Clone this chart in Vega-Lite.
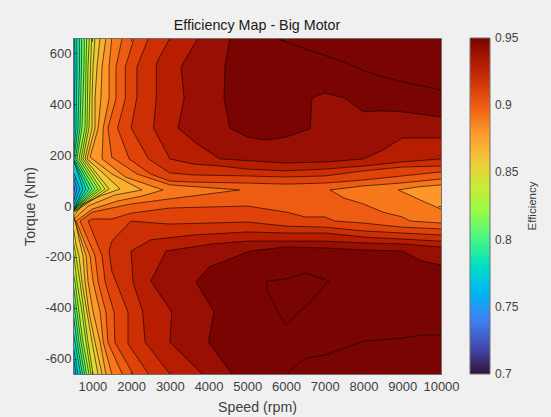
{
"$schema":"https://vega.github.io/schema/vega-lite/v6.json",
"width":368,"height":336,
"autosize":{"type":"none"},
"padding":{"left":73,"top":38,"right":110,"bottom":43},
"background":"#f0f0f0",
"title":{"text":"Efficiency Map - Big Motor","font":"Liberation Sans","fontSize":14.3,"fontWeight":"normal","color":"#1a1a1a","offset":2,"anchor":"middle"},
"data":{"values":[
{"poly":"74","level":0.74,"speed":500,"torque":660},{"poly":"74","level":0.74,"speed":10000,"torque":660},{"poly":"74","level":0.74,"speed":10000,"torque":-660},{"poly":"74","level":0.74,"speed":500,"torque":-660},
{"poly":"75","level":0.75,"speed":500,"torque":660},{"poly":"75","level":0.75,"seg":"75a","speed":500,"torque":106},{"poly":"75","level":0.75,"seg":"75a","speed":540,"torque":67},{"poly":"75","level":0.75,"seg":"75a","speed":500,"torque":28},{"poly":"75","level":0.75,"speed":500,"torque":-660},{"poly":"75","level":0.75,"speed":10000,"torque":-660},{"poly":"75","level":0.75,"speed":10000,"torque":660},
{"poly":"76","level":0.76,"speed":500,"torque":660},{"poly":"76","level":0.76,"seg":"76a","speed":500,"torque":122},{"poly":"76","level":0.76,"seg":"76a","speed":603,"torque":67},{"poly":"76","level":0.76,"seg":"76a","speed":500,"torque":8},{"poly":"76","level":0.76,"seg":"76b","speed":500,"torque":-621},{"poly":"76","level":0.76,"seg":"76b","speed":526,"torque":-660},{"poly":"76","level":0.76,"speed":10000,"torque":-660},{"poly":"76","level":0.76,"speed":10000,"torque":660},
{"poly":"77","level":0.77,"speed":500,"torque":660},{"poly":"77","level":0.77,"seg":"77a","speed":500,"torque":138},{"poly":"77","level":0.77,"seg":"77a","speed":681,"torque":67},{"poly":"77","level":0.77,"seg":"77a","speed":500,"torque":-4},{"poly":"77","level":0.77,"seg":"77b","speed":500,"torque":-582},{"poly":"77","level":0.77,"seg":"77b","speed":577,"torque":-660},{"poly":"77","level":0.77,"speed":10000,"torque":-660},{"poly":"77","level":0.77,"speed":10000,"torque":660},
{"poly":"78","level":0.78,"seg":"78a","speed":539,"torque":660},{"poly":"78","level":0.78,"seg":"78a","speed":552,"torque":547},{"poly":"78","level":0.78,"seg":"78a","speed":526,"torque":307},{"poly":"78","level":0.78,"seg":"78a","speed":505,"torque":185},{"poly":"78","level":0.78,"seg":"78a","speed":758,"torque":67},{"poly":"78","level":0.78,"seg":"78a","speed":505,"torque":-16},{"poly":"78","level":0.78,"speed":500,"torque":-16},{"poly":"78","level":0.78,"seg":"78b","speed":500,"torque":-543},{"poly":"78","level":0.78,"seg":"78b","speed":629,"torque":-660},{"poly":"78","level":0.78,"speed":10000,"torque":-660},{"poly":"78","level":0.78,"speed":10000,"torque":660},
{"poly":"79","level":0.79,"seg":"79a","speed":596,"torque":660},{"poly":"79","level":0.79,"seg":"79a","speed":603,"torque":547},{"poly":"79","level":0.79,"seg":"79a","speed":577,"torque":307},{"poly":"79","level":0.79,"seg":"79a","speed":508,"torque":185},{"poly":"79","level":0.79,"seg":"79a","speed":836,"torque":67},{"poly":"79","level":0.79,"seg":"79a","speed":505,"torque":-16},{"poly":"79","level":0.79,"speed":500,"torque":-16},{"poly":"79","level":0.79,"seg":"79b","speed":500,"torque":-484},{"poly":"79","level":0.79,"seg":"79b","speed":552,"torque":-535},{"poly":"79","level":0.79,"seg":"79b","speed":694,"torque":-660},{"poly":"79","level":0.79,"speed":10000,"torque":-660},{"poly":"79","level":0.79,"speed":10000,"torque":660},
{"poly":"80","level":0.80,"seg":"80a","speed":663,"torque":660},{"poly":"80","level":0.80,"seg":"80a","speed":668,"torque":547},{"poly":"80","level":0.80,"seg":"80a","speed":629,"torque":307},{"poly":"80","level":0.80,"seg":"80a","speed":526,"torque":185},{"poly":"80","level":0.80,"seg":"80a","speed":913,"torque":67},{"poly":"80","level":0.80,"seg":"80a","speed":505,"torque":-16},{"poly":"80","level":0.80,"speed":500,"torque":-16},{"poly":"80","level":0.80,"seg":"80b","speed":500,"torque":-417},{"poly":"80","level":0.80,"seg":"80b","speed":603,"torque":-535},{"poly":"80","level":0.80,"seg":"80b","speed":745,"torque":-660},{"poly":"80","level":0.80,"speed":10000,"torque":-660},{"poly":"80","level":0.80,"speed":10000,"torque":660},
{"poly":"81","level":0.81,"seg":"81a","speed":725,"torque":660},{"poly":"81","level":0.81,"seg":"81a","speed":719,"torque":547},{"poly":"81","level":0.81,"seg":"81a","speed":681,"torque":307},{"poly":"81","level":0.81,"seg":"81a","speed":565,"torque":185},{"poly":"81","level":0.81,"seg":"81a","speed":991,"torque":67},{"poly":"81","level":0.81,"seg":"81a","speed":505,"torque":-18},{"poly":"81","level":0.81,"speed":500,"torque":-18},{"poly":"81","level":0.81,"seg":"81b","speed":500,"torque":-358},{"poly":"81","level":0.81,"seg":"81b","speed":552,"torque":-417},{"poly":"81","level":0.81,"seg":"81b","speed":655,"torque":-535},{"poly":"81","level":0.81,"seg":"81b","speed":797,"torque":-660},{"poly":"81","level":0.81,"speed":10000,"torque":-660},{"poly":"81","level":0.81,"speed":10000,"torque":660},
{"poly":"82","level":0.82,"seg":"82a","speed":792,"torque":660},{"poly":"82","level":0.82,"seg":"82a","speed":784,"torque":547},{"poly":"82","level":0.82,"seg":"82a","speed":732,"torque":307},{"poly":"82","level":0.82,"seg":"82a","speed":603,"torque":185},{"poly":"82","level":0.82,"seg":"82a","speed":1068,"torque":67},{"poly":"82","level":0.82,"seg":"82a","speed":510,"torque":-18},{"poly":"82","level":0.82,"speed":500,"torque":-18},{"poly":"82","level":0.82,"seg":"82b","speed":500,"torque":-299},{"poly":"82","level":0.82,"seg":"82b","speed":603,"torque":-417},{"poly":"82","level":0.82,"seg":"82b","speed":707,"torque":-535},{"poly":"82","level":0.82,"seg":"82b","speed":849,"torque":-660},{"poly":"82","level":0.82,"speed":10000,"torque":-660},{"poly":"82","level":0.82,"speed":10000,"torque":660},
{"poly":"83","level":0.83,"seg":"83a","speed":854,"torque":660},{"poly":"83","level":0.83,"seg":"83a","speed":836,"torque":547},{"poly":"83","level":0.83,"seg":"83a","speed":810,"torque":307},{"poly":"83","level":0.83,"seg":"83a","speed":655,"torque":185},{"poly":"83","level":0.83,"seg":"83a","speed":1145,"torque":67},{"poly":"83","level":0.83,"seg":"83a","speed":510,"torque":-18},{"poly":"83","level":0.83,"speed":500,"torque":-18},{"poly":"83","level":0.83,"seg":"83b","speed":500,"torque":-256},{"poly":"83","level":0.83,"seg":"83b","speed":552,"torque":-299},{"poly":"83","level":0.83,"seg":"83b","speed":655,"torque":-417},{"poly":"83","level":0.83,"seg":"83b","speed":758,"torque":-535},{"poly":"83","level":0.83,"seg":"83b","speed":913,"torque":-660},{"poly":"83","level":0.83,"speed":10000,"torque":-660},{"poly":"83","level":0.83,"speed":10000,"torque":660},
{"poly":"84","level":0.84,"seg":"84a","speed":921,"torque":660},{"poly":"84","level":0.84,"seg":"84a","speed":887,"torque":547},{"poly":"84","level":0.84,"seg":"84a","speed":861,"torque":307},{"poly":"84","level":0.84,"seg":"84a","speed":707,"torque":185},{"poly":"84","level":0.84,"seg":"84a","speed":1223,"torque":67},{"poly":"84","level":0.84,"seg":"84a","speed":515,"torque":-20},{"poly":"84","level":0.84,"speed":500,"torque":-20},{"poly":"84","level":0.84,"seg":"84b","speed":500,"torque":-177},{"poly":"84","level":0.84,"seg":"84b","speed":526,"torque":-197},{"poly":"84","level":0.84,"seg":"84b","speed":603,"torque":-299},{"poly":"84","level":0.84,"seg":"84b","speed":732,"torque":-417},{"poly":"84","level":0.84,"seg":"84b","speed":836,"torque":-535},{"poly":"84","level":0.84,"seg":"84b","speed":965,"torque":-660},{"poly":"84","level":0.84,"speed":10000,"torque":-660},{"poly":"84","level":0.84,"speed":10000,"torque":660},
{"poly":"85","level":0.85,"seg":"85a","speed":983,"torque":660},{"poly":"85","level":0.85,"seg":"85a","speed":952,"torque":547},{"poly":"85","level":0.85,"seg":"85a","speed":913,"torque":307},{"poly":"85","level":0.85,"seg":"85a","speed":758,"torque":185},{"poly":"85","level":0.85,"seg":"85a","speed":1326,"torque":67},{"poly":"85","level":0.85,"seg":"85a","speed":520,"torque":-22},{"poly":"85","level":0.85,"speed":500,"torque":-22},{"poly":"85","level":0.85,"seg":"85b","speed":500,"torque":-130},{"poly":"85","level":0.85,"seg":"85b","speed":577,"torque":-197},{"poly":"85","level":0.85,"seg":"85b","speed":681,"torque":-299},{"poly":"85","level":0.85,"seg":"85b","speed":784,"torque":-417},{"poly":"85","level":0.85,"seg":"85b","speed":887,"torque":-535},{"poly":"85","level":0.85,"seg":"85b","speed":1016,"torque":-660},{"poly":"85","level":0.85,"speed":10000,"torque":-660},{"poly":"85","level":0.85,"speed":10000,"torque":660},
{"poly":"86","level":0.86,"seg":"86a","speed":1068,"torque":660},{"poly":"86","level":0.86,"seg":"86a","speed":1016,"torque":547},{"poly":"86","level":0.86,"seg":"86a","speed":991,"torque":421},{"poly":"86","level":0.86,"seg":"86a","speed":991,"torque":307},{"poly":"86","level":0.86,"seg":"86a","speed":810,"torque":185},{"poly":"86","level":0.86,"seg":"86a","speed":1430,"torque":67},{"poly":"86","level":0.86,"seg":"86a","speed":530,"torque":-24},{"poly":"86","level":0.86,"speed":500,"torque":-24},{"poly":"86","level":0.86,"seg":"86b","speed":500,"torque":-75},{"poly":"86","level":0.86,"seg":"86b","speed":577,"torque":-149},{"poly":"86","level":0.86,"seg":"86b","speed":655,"torque":-197},{"poly":"86","level":0.86,"seg":"86b","speed":732,"torque":-299},{"poly":"86","level":0.86,"seg":"86b","speed":861,"torque":-417},{"poly":"86","level":0.86,"seg":"86b","speed":991,"torque":-535},{"poly":"86","level":0.86,"seg":"86b","speed":1145,"torque":-660},{"poly":"86","level":0.86,"speed":10000,"torque":-660},{"poly":"86","level":0.86,"speed":10000,"torque":660},
{"poly":"87","level":0.87,"seg":"87a","speed":1197,"torque":660},{"poly":"87","level":0.87,"seg":"87a","speed":1120,"torque":547},{"poly":"87","level":0.87,"seg":"87a","speed":1068,"torque":421},{"poly":"87","level":0.87,"seg":"87a","speed":1068,"torque":307},{"poly":"87","level":0.87,"seg":"87a","speed":861,"torque":185},{"poly":"87","level":0.87,"seg":"87a","speed":1300,"torque":126},{"poly":"87","level":0.87,"seg":"87a","speed":1713,"torque":67},{"poly":"87","level":0.87,"seg":"87a","speed":1197,"torque":39},{"poly":"87","level":0.87,"seg":"87a","speed":758,"torque":8},{"poly":"87","level":0.87,"seg":"87a","speed":526,"torque":-39},{"poly":"87","level":0.87,"seg":"87a","speed":577,"torque":-71},{"poly":"87","level":0.87,"seg":"87a","speed":655,"torque":-130},{"poly":"87","level":0.87,"seg":"87a","speed":758,"torque":-197},{"poly":"87","level":0.87,"seg":"87a","speed":810,"torque":-299},{"poly":"87","level":0.87,"seg":"87a","speed":913,"torque":-417},{"poly":"87","level":0.87,"seg":"87a","speed":1068,"torque":-535},{"poly":"87","level":0.87,"seg":"87a","speed":1249,"torque":-660},{"poly":"87","level":0.87,"speed":10000,"torque":-660},{"poly":"87","level":0.87,"speed":10000,"torque":660},
{"poly":"88","level":0.88,"seg":"88a","speed":1350,"torque":660},{"poly":"88","level":0.88,"seg":"88a","speed":1250,"torque":547},{"poly":"88","level":0.88,"seg":"88a","speed":1220,"torque":421},{"poly":"88","level":0.88,"seg":"88a","speed":1150,"torque":306},{"poly":"88","level":0.88,"seg":"88a","speed":940,"torque":192},{"poly":"88","level":0.88,"seg":"88a","speed":1500,"torque":126},{"poly":"88","level":0.88,"seg":"88a","speed":2280,"torque":63},{"poly":"88","level":0.88,"seg":"88a","speed":1580,"torque":43},{"poly":"88","level":0.88,"seg":"88a","speed":890,"torque":0},{"poly":"88","level":0.88,"seg":"88a","speed":530,"torque":-51},{"poly":"88","level":0.88,"seg":"88a","speed":840,"torque":-196},{"poly":"88","level":0.88,"seg":"88a","speed":890,"torque":-299},{"poly":"88","level":0.88,"seg":"88a","speed":1020,"torque":-417},{"poly":"88","level":0.88,"seg":"88a","speed":1200,"torque":-535},{"poly":"88","level":0.88,"seg":"88a","speed":1350,"torque":-660},{"poly":"88","level":0.88,"speed":10000,"torque":-660},{"poly":"88","level":0.88,"speed":10000,"torque":660},
{"poly":"89","level":0.89,"seg":"89a","speed":1500,"torque":660},{"poly":"89","level":0.89,"seg":"89a","speed":1430,"torque":547},{"poly":"89","level":0.89,"seg":"89a","speed":1430,"torque":421},{"poly":"89","level":0.89,"seg":"89a","speed":1280,"torque":306},{"poly":"89","level":0.89,"seg":"89a","speed":1250,"torque":185},{"poly":"89","level":0.89,"seg":"89a","speed":1850,"torque":114},{"poly":"89","level":0.89,"seg":"89a","speed":2820,"torque":63},{"poly":"89","level":0.89,"seg":"89a","speed":2280,"torque":39},{"poly":"89","level":0.89,"seg":"89a","speed":1660,"torque":20},{"poly":"89","level":0.89,"seg":"89a","speed":1000,"torque":-12},{"poly":"89","level":0.89,"seg":"89a","speed":580,"torque":-59},{"poly":"89","level":0.89,"seg":"89a","speed":940,"torque":-196},{"poly":"89","level":0.89,"seg":"89a","speed":1020,"torque":-299},{"poly":"89","level":0.89,"seg":"89a","speed":1200,"torque":-417},{"poly":"89","level":0.89,"seg":"89a","speed":1280,"torque":-535},{"poly":"89","level":0.89,"seg":"89a","speed":1500,"torque":-660},{"poly":"89","level":0.89,"speed":10000,"torque":-660},{"poly":"89","level":0.89,"seg":"89b","speed":10000,"torque":-12},{"poly":"89","level":0.89,"seg":"89b","speed":9700,"torque":8},{"poly":"89","level":0.89,"seg":"89b","speed":9400,"torque":28},{"poly":"89","level":0.89,"seg":"89b","speed":8900,"torque":63},{"poly":"89","level":0.89,"seg":"89b","speed":9400,"torque":75},{"poly":"89","level":0.89,"seg":"89b","speed":10000,"torque":83},{"poly":"89","level":0.89,"speed":10000,"torque":660},
{"poly":"90","level":0.90,"seg":"90a","speed":1770,"torque":660},{"poly":"90","level":0.90,"seg":"90a","speed":1610,"torque":547},{"poly":"90","level":0.90,"seg":"90a","speed":1610,"torque":421},{"poly":"90","level":0.90,"seg":"90a","speed":1400,"torque":306},{"poly":"90","level":0.90,"seg":"90a","speed":1500,"torque":192},{"poly":"90","level":0.90,"seg":"90a","speed":2150,"torque":126},{"poly":"90","level":0.90,"seg":"90a","speed":3000,"torque":83},{"poly":"90","level":0.90,"seg":"90a","speed":4800,"torque":63},{"poly":"90","level":0.90,"seg":"90a","speed":3000,"torque":28},{"poly":"90","level":0.90,"seg":"90a","speed":2000,"torque":8},{"poly":"90","level":0.90,"seg":"90a","speed":1000,"torque":-24},{"poly":"90","level":0.90,"seg":"90a","speed":680,"torque":-59},{"poly":"90","level":0.90,"seg":"90a","speed":1070,"torque":-196},{"poly":"90","level":0.90,"seg":"90a","speed":1150,"torque":-299},{"poly":"90","level":0.90,"seg":"90a","speed":1350,"torque":-417},{"poly":"90","level":0.90,"seg":"90a","speed":1400,"torque":-535},{"poly":"90","level":0.90,"seg":"90a","speed":1770,"torque":-660},{"poly":"90","level":0.90,"speed":10000,"torque":-660},{"poly":"90","level":0.90,"seg":"90b","speed":10000,"torque":-67},{"poly":"90","level":0.90,"seg":"90b","speed":9200,"torque":-59},{"poly":"90","level":0.90,"seg":"90b","speed":9000,"torque":-43},{"poly":"90","level":0.90,"seg":"90b","speed":8500,"torque":-24},{"poly":"90","level":0.90,"seg":"90b","speed":8000,"torque":8},{"poly":"90","level":0.90,"seg":"90b","speed":7500,"torque":31},{"poly":"90","level":0.90,"seg":"90b","speed":7135,"torque":63},{"poly":"90","level":0.90,"seg":"90b","speed":8000,"torque":79},{"poly":"90","level":0.90,"seg":"90b","speed":8950,"torque":90},{"poly":"90","level":0.90,"seg":"90b","speed":10000,"torque":106},{"poly":"90","level":0.90,"speed":10000,"torque":660},
{"poly":"91u","level":0.91,"seg":"91u","speed":2080,"torque":660},{"poly":"91u","level":0.91,"seg":"91u","speed":1850,"torque":547},{"poly":"91u","level":0.91,"seg":"91u","speed":1850,"torque":421},{"poly":"91u","level":0.91,"seg":"91u","speed":1650,"torque":306},{"poly":"91u","level":0.91,"seg":"91u","speed":1950,"torque":185},{"poly":"91u","level":0.91,"seg":"91u","speed":2500,"torque":126},{"poly":"91u","level":0.91,"seg":"91u","speed":3000,"torque":98},{"poly":"91u","level":0.91,"seg":"91u","speed":3600,"torque":94},{"poly":"91u","level":0.91,"seg":"91u","speed":5000,"torque":90},{"poly":"91u","level":0.91,"seg":"91u","speed":6000,"torque":86},{"poly":"91u","level":0.91,"seg":"91u","speed":7000,"torque":90},{"poly":"91u","level":0.91,"seg":"91u","speed":8000,"torque":102},{"poly":"91u","level":0.91,"seg":"91u","speed":9000,"torque":118},{"poly":"91u","level":0.91,"seg":"91u","speed":10000,"torque":134},{"poly":"91u","level":0.91,"speed":10000,"torque":660},
{"poly":"91l","level":0.91,"seg":"91l","speed":2050,"torque":-660},{"poly":"91l","level":0.91,"seg":"91l","speed":1580,"torque":-535},{"poly":"91l","level":0.91,"seg":"91l","speed":1560,"torque":-417},{"poly":"91l","level":0.91,"seg":"91l","speed":1330,"torque":-299},{"poly":"91l","level":0.91,"seg":"91l","speed":1250,"torque":-196},{"poly":"91l","level":0.91,"seg":"91l","speed":890,"torque":-59},{"poly":"91l","level":0.91,"seg":"91l","speed":1000,"torque":-51},{"poly":"91l","level":0.91,"seg":"91l","speed":1500,"torque":-51},{"poly":"91l","level":0.91,"seg":"91l","speed":2000,"torque":-28},{"poly":"91l","level":0.91,"seg":"91l","speed":3000,"torque":-8},{"poly":"91l","level":0.91,"seg":"91l","speed":5000,"torque":0},{"poly":"91l","level":0.91,"seg":"91l","speed":6000,"torque":-24},{"poly":"91l","level":0.91,"seg":"91l","speed":6500,"torque":-43},{"poly":"91l","level":0.91,"seg":"91l","speed":7000,"torque":-43},{"poly":"91l","level":0.91,"seg":"91l","speed":7250,"torque":-59},{"poly":"91l","level":0.91,"seg":"91l","speed":8000,"torque":-67},{"poly":"91l","level":0.91,"seg":"91l","speed":9000,"torque":-83},{"poly":"91l","level":0.91,"seg":"91l","speed":10000,"torque":-90},{"poly":"91l","level":0.91,"speed":10000,"torque":-660},
{"poly":"92u","level":0.92,"seg":"92u","speed":2450,"torque":660},{"poly":"92u","level":0.92,"seg":"92u","speed":2150,"torque":547},{"poly":"92u","level":0.92,"seg":"92u","speed":2150,"torque":428},{"poly":"92u","level":0.92,"seg":"92u","speed":2000,"torque":306},{"poly":"92u","level":0.92,"seg":"92u","speed":2450,"torque":185},{"poly":"92u","level":0.92,"seg":"92u","speed":3000,"torque":130},{"poly":"92u","level":0.92,"seg":"92u","speed":3600,"torque":122},{"poly":"92u","level":0.92,"seg":"92u","speed":5000,"torque":118},{"poly":"92u","level":0.92,"seg":"92u","speed":6000,"torque":114},{"poly":"92u","level":0.92,"seg":"92u","speed":7000,"torque":118},{"poly":"92u","level":0.92,"seg":"92u","speed":8000,"torque":138},{"poly":"92u","level":0.92,"seg":"92u","speed":9000,"torque":153},{"poly":"92u","level":0.92,"seg":"92u","speed":10000,"torque":157},{"poly":"92u","level":0.92,"speed":10000,"torque":660},
{"poly":"92l","level":0.92,"seg":"92l","speed":2450,"torque":-660},{"poly":"92l","level":0.92,"seg":"92l","speed":1920,"torque":-542},{"poly":"92l","level":0.92,"seg":"92l","speed":1920,"torque":-417},{"poly":"92l","level":0.92,"seg":"92l","speed":1500,"torque":-255},{"poly":"92l","level":0.92,"seg":"92l","speed":1430,"torque":-177},{"poly":"92l","level":0.92,"seg":"92l","speed":1500,"torque":-138},{"poly":"92l","level":0.92,"seg":"92l","speed":2000,"torque":-59},{"poly":"92l","level":0.92,"seg":"92l","speed":2300,"torque":-63},{"poly":"92l","level":0.92,"seg":"92l","speed":3000,"torque":-71},{"poly":"92l","level":0.92,"seg":"92l","speed":5000,"torque":-63},{"poly":"92l","level":0.92,"seg":"92l","speed":6000,"torque":-79},{"poly":"92l","level":0.92,"seg":"92l","speed":7000,"torque":-83},{"poly":"92l","level":0.92,"seg":"92l","speed":8000,"torque":-98},{"poly":"92l","level":0.92,"seg":"92l","speed":9000,"torque":-106},{"poly":"92l","level":0.92,"seg":"92l","speed":10000,"torque":-114},{"poly":"92l","level":0.92,"speed":10000,"torque":-660},
{"poly":"93u","level":0.93,"seg":"93u","speed":3000,"torque":660},{"poly":"93u","level":0.93,"seg":"93u","speed":2670,"torque":566},{"poly":"93u","level":0.93,"seg":"93u","speed":2650,"torque":547},{"poly":"93u","level":0.93,"seg":"93u","speed":2650,"torque":428},{"poly":"93u","level":0.93,"seg":"93u","speed":2580,"torque":306},{"poly":"93u","level":0.93,"seg":"93u","speed":3000,"torque":185},{"poly":"93u","level":0.93,"seg":"93u","speed":3600,"torque":165},{"poly":"93u","level":0.93,"seg":"93u","speed":4300,"torque":157},{"poly":"93u","level":0.93,"seg":"93u","speed":5000,"torque":145},{"poly":"93u","level":0.93,"seg":"93u","speed":6000,"torque":138},{"poly":"93u","level":0.93,"seg":"93u","speed":7000,"torque":145},{"poly":"93u","level":0.93,"seg":"93u","speed":8000,"torque":157},{"poly":"93u","level":0.93,"seg":"93u","speed":9000,"torque":173},{"poly":"93u","level":0.93,"seg":"93u","speed":10000,"torque":185},{"poly":"93u","level":0.93,"speed":10000,"torque":660},
{"poly":"93l","level":0.93,"seg":"93l","speed":3000,"torque":-660},{"poly":"93l","level":0.93,"seg":"93l","speed":2360,"torque":-535},{"poly":"93l","level":0.93,"seg":"93l","speed":2300,"torque":-417},{"poly":"93l","level":0.93,"seg":"93l","speed":2050,"torque":-299},{"poly":"93l","level":0.93,"seg":"93l","speed":2000,"torque":-177},{"poly":"93l","level":0.93,"seg":"93l","speed":2500,"torque":-133},{"poly":"93l","level":0.93,"seg":"93l","speed":3600,"torque":-114},{"poly":"93l","level":0.93,"seg":"93l","speed":5000,"torque":-102},{"poly":"93l","level":0.93,"seg":"93l","speed":6000,"torque":-106},{"poly":"93l","level":0.93,"seg":"93l","speed":7000,"torque":-106},{"poly":"93l","level":0.93,"seg":"93l","speed":8000,"torque":-122},{"poly":"93l","level":0.93,"seg":"93l","speed":9000,"torque":-130},{"poly":"93l","level":0.93,"seg":"93l","speed":10000,"torque":-138},{"poly":"93l","level":0.93,"speed":10000,"torque":-660},
{"poly":"94u","level":0.94,"seg":"94u","speed":3730,"torque":660},{"poly":"94u","level":0.94,"seg":"94u","speed":3290,"torque":547},{"poly":"94u","level":0.94,"seg":"94u","speed":3370,"torque":421},{"poly":"94u","level":0.94,"seg":"94u","speed":3210,"torque":306},{"poly":"94u","level":0.94,"seg":"94u","speed":3700,"torque":244},{"poly":"94u","level":0.94,"seg":"94u","speed":4300,"torque":185},{"poly":"94u","level":0.94,"seg":"94u","speed":6000,"torque":169},{"poly":"94u","level":0.94,"seg":"94u","speed":7050,"torque":173},{"poly":"94u","level":0.94,"seg":"94u","speed":8000,"torque":185},{"poly":"94u","level":0.94,"seg":"94u","speed":8500,"torque":220},{"poly":"94u","level":0.94,"seg":"94u","speed":9000,"torque":267},{"poly":"94u","level":0.94,"seg":"94u","speed":10000,"torque":267},{"poly":"94u","level":0.94,"speed":10000,"torque":660},
{"poly":"94l","level":0.94,"seg":"94l","speed":3830,"torque":-660},{"poly":"94l","level":0.94,"seg":"94l","speed":3000,"torque":-535},{"poly":"94l","level":0.94,"seg":"94l","speed":3050,"torque":-417},{"poly":"94l","level":0.94,"seg":"94l","speed":2510,"torque":-295},{"poly":"94l","level":0.94,"seg":"94l","speed":2900,"torque":-177},{"poly":"94l","level":0.94,"seg":"94l","speed":4100,"torque":-149},{"poly":"94l","level":0.94,"seg":"94l","speed":5000,"torque":-138},{"poly":"94l","level":0.94,"seg":"94l","speed":6000,"torque":-138},{"poly":"94l","level":0.94,"seg":"94l","speed":7000,"torque":-138},{"poly":"94l","level":0.94,"seg":"94l","speed":8000,"torque":-145},{"poly":"94l","level":0.94,"seg":"94l","speed":9000,"torque":-149},{"poly":"94l","level":0.94,"seg":"94l","speed":10000,"torque":-161},{"poly":"94l","level":0.94,"speed":10000,"torque":-660},
{"poly":"95u","level":0.95,"seg":"95u","speed":4550,"torque":660},{"poly":"95u","level":0.95,"seg":"95u","speed":4425,"torque":547},{"poly":"95u","level":0.95,"seg":"95u","speed":4400,"torque":421},{"poly":"95u","level":0.95,"seg":"95u","speed":4550,"torque":306},{"poly":"95u","level":0.95,"seg":"95u","speed":5000,"torque":271},{"poly":"95u","level":0.95,"seg":"95u","speed":5500,"torque":259},{"poly":"95u","level":0.95,"seg":"95u","speed":6000,"torque":271},{"poly":"95u","level":0.95,"seg":"95u","speed":6620,"torque":303},{"poly":"95u","level":0.95,"seg":"95u","speed":6670,"torque":425},{"poly":"95u","level":0.95,"seg":"95u","speed":7000,"torque":444},{"poly":"95u","level":0.95,"seg":"95u","speed":7500,"torque":425},{"poly":"95u","level":0.95,"seg":"95u","speed":8000,"torque":370},{"poly":"95u","level":0.95,"seg":"95u","speed":8500,"torque":374},{"poly":"95u","level":0.95,"seg":"95u","speed":9000,"torque":370},{"poly":"95u","level":0.95,"seg":"95u","speed":10000,"torque":350},{"poly":"95u","level":0.95,"speed":10000,"torque":660},
{"poly":"95l","level":0.95,"seg":"95l","speed":4605,"torque":-660},{"poly":"95l","level":0.95,"seg":"95l","speed":4000,"torque":-535},{"poly":"95l","level":0.95,"seg":"95l","speed":4140,"torque":-417},{"poly":"95l","level":0.95,"seg":"95l","speed":3680,"torque":-299},{"poly":"95l","level":0.95,"seg":"95l","speed":4010,"torque":-240},{"poly":"95l","level":0.95,"seg":"95l","speed":5070,"torque":-177},{"poly":"95l","level":0.95,"seg":"95l","speed":6000,"torque":-161},{"poly":"95l","level":0.95,"seg":"95l","speed":7060,"torque":-165},{"poly":"95l","level":0.95,"seg":"95l","speed":8000,"torque":-173},{"poly":"95l","level":0.95,"seg":"95l","speed":9000,"torque":-177},{"poly":"95l","level":0.95,"seg":"95l","speed":9500,"torque":-216},{"poly":"95l","level":0.95,"seg":"95l","speed":10000,"torque":-232},{"poly":"95l","level":0.95,"speed":10000,"torque":-660},
{"poly":"96u","level":0.96,"seg":"96u","speed":5742,"torque":660},{"poly":"96u","level":0.96,"seg":"96u","speed":6500,"torque":617},{"poly":"96u","level":0.96,"seg":"96u","speed":7500,"torque":566},{"poly":"96u","level":0.96,"seg":"96u","speed":8000,"torque":531},{"poly":"96u","level":0.96,"seg":"96u","speed":8500,"torque":507},{"poly":"96u","level":0.96,"seg":"96u","speed":9000,"torque":488},{"poly":"96u","level":0.96,"seg":"96u","speed":10000,"torque":456},{"poly":"96u","level":0.96,"speed":10000,"torque":660},
{"poly":"96m","level":0.96,"seg":"96m","speed":5500,"torque":-295},{"poly":"96m","level":0.96,"seg":"96m","speed":6000,"torque":-287},{"poly":"96m","level":0.96,"seg":"96m","speed":6500,"torque":-263},{"poly":"96m","level":0.96,"seg":"96m","speed":7110,"torque":-295},{"poly":"96m","level":0.96,"seg":"96m","speed":7000,"torque":-311},{"poly":"96m","level":0.96,"seg":"96m","speed":6500,"torque":-397},{"poly":"96m","level":0.96,"seg":"96m","speed":6310,"torque":-417},{"poly":"96m","level":0.96,"seg":"96m","speed":6000,"torque":-468},{"poly":"96m","level":0.96,"seg":"96m","speed":5793,"torque":-417},{"poly":"96m","level":0.96,"seg":"96m","speed":5500,"torque":-326},{"poly":"96m","level":0.96,"seg":"96m","speed":5500,"torque":-295},
{"poly":"96l","level":0.96,"seg":"96l","speed":6000,"torque":-660},{"poly":"96l","level":0.96,"seg":"96l","speed":6500,"torque":-598},{"poly":"96l","level":0.96,"seg":"96l","speed":7000,"torque":-586},{"poly":"96l","level":0.96,"seg":"96l","speed":8000,"torque":-531},{"poly":"96l","level":0.96,"seg":"96l","speed":9000,"torque":-519},{"poly":"96l","level":0.96,"seg":"96l","speed":9500,"torque":-507},{"poly":"96l","level":0.96,"seg":"96l","speed":10000,"torque":-507},{"poly":"96l","level":0.96,"speed":10000,"torque":-660}
]},
"encoding":{
"x":{"field":"speed","type":"quantitative","scale":{"domain":[500,10000],"nice":false,"zero":false}},
"y":{"field":"torque","type":"quantitative","scale":{"domain":[-660,660],"nice":false,"zero":false}}
},
"layer":[
{"mark":{"type":"line","strokeWidth":0,"order":null,"clip":true},
"encoding":{
"x":{"field":"speed","type":"quantitative","title":"Speed (rpm)","scale":{"domain":[500,10000],"nice":false,"zero":false},"axis":{"values":[1000,2000,3000,4000,5000,6000,7000,8000,9000,10000],"grid":false,"format":"d","labelOverlap":false,"labelFlush":false,"labelBound":false,"labelFont":"Liberation Sans","labelFontSize":13,"labelColor":"#404040","labelPadding":9,"titleFont":"Liberation Sans","titleFontSize":14.2,"titleFontWeight":"normal","titleColor":"#404040","titlePadding":7,"domainColor":"#707070","tickColor":"#333333","tickSize":-3,"zindex":1}},
"y":{"field":"torque","type":"quantitative","title":"Torque (Nm)","scale":{"domain":[-660,660],"nice":false,"zero":false},"axis":{"values":[-600,-400,-200,0,200,400,600],"grid":false,"labelExpr":"''+datum.value","labelOverlap":false,"labelFlush":false,"labelBound":false,"labelFont":"Liberation Sans","labelFontSize":13,"labelColor":"#404040","labelPadding":5,"titleFont":"Liberation Sans","titleFontSize":14.2,"titleFontWeight":"normal","titleColor":"#404040","titlePadding":7,"domainColor":"#707070","tickColor":"#333333","tickSize":-3,"zindex":1}},
"detail":{"field":"poly"},
"fill":{"field":"level","type":"quantitative","title":"Efficiency","scale":{"domain":[0.7,0.95],"clamp":true,"nice":false,"zero":false,"range":["#30123b","#4145ab","#4675ed","#39a2fc","#1bcfd4","#24eca6","#61fc6c","#a4fc3b","#d1e834","#f3c63a","#fe9b2d","#f36315","#d93806","#b11901","#7a0402"]},
"legend":{"orient":"none","legendX":397,"legendY":0,"direction":"vertical","gradientLength":336,"gradientThickness":20,"gradientStrokeColor":"#707070","gradientStrokeWidth":1,"values":[0.7,0.75,0.8,0.85,0.9,0.95],"format":".2~f","labelFont":"Liberation Sans","labelFontSize":12,"labelColor":"#404040","labelOffset":5,"labelOverlap":false,"titleFont":"Liberation Sans","titleFontSize":11.5,"titleFontWeight":"normal","titleColor":"#404040","titleOrient":"right","titleAnchor":"middle","titlePadding":20,"encoding":{"labels":{"baseline":{"value":"middle"}},"title":{"angle":{"value":270}}}}}
}},
{"transform":[{"filter":"isValid(datum.seg)"}],
"mark":{"type":"line","stroke":"#000000","strokeWidth":0.7,"strokeOpacity":0.85,"order":null,"clip":true},
"encoding":{
"x":{"field":"speed","type":"quantitative","axis":null},
"y":{"field":"torque","type":"quantitative","axis":null},
"detail":{"field":"seg"}
}},
{"mark":{"type":"point","opacity":0},
"encoding":{
"x":{"field":"speed","type":"quantitative","title":null,"axis":{"orient":"top","values":[1000,2000,3000,4000,5000,6000,7000,8000,9000,10000],"labels":false,"grid":false,"domainColor":"#707070","tickColor":"#333333","tickSize":-3,"zindex":1}},
"y":{"field":"torque","type":"quantitative","title":null,"axis":{"orient":"right","values":[-600,-400,-200,0,200,400,600],"labels":false,"grid":false,"domainColor":"#707070","tickColor":"#333333","tickSize":-3,"zindex":1}}
}}
],
"resolve":{"axis":{"x":"independent","y":"independent"}},
"config":{"view":{"stroke":null}}
}
